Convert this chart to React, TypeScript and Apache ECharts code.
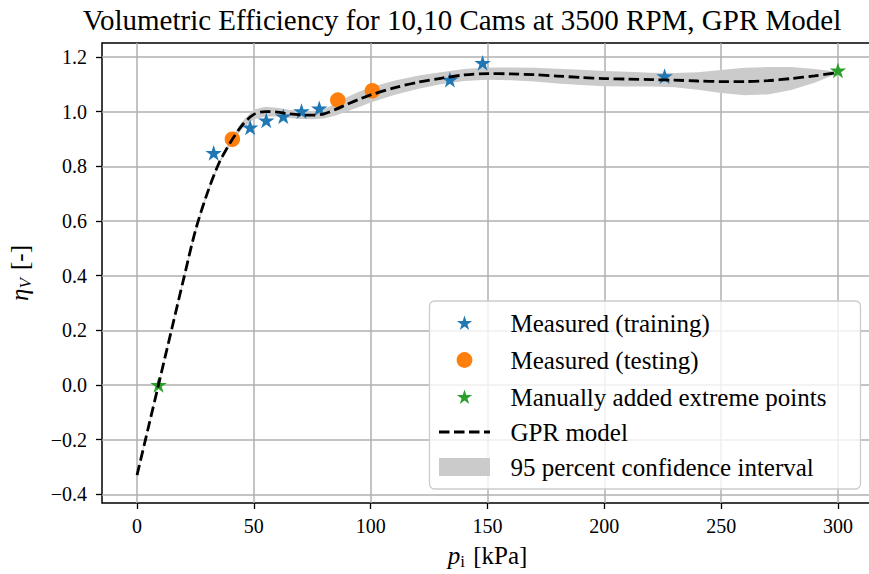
import React, { useEffect, useRef } from "react";
import * as echarts from "echarts";

// ---- data ----
const trainX = [32.8, 48.4, 55.3, 62.6, 70.4, 78.0, 133.9, 147.9, 225.8];
const trainY = [0.849, 0.942, 0.968, 0.983, 1.002, 1.012, 1.117, 1.178, 1.130];
const testX = [40.8, 85.9, 100.7];
const testY = [0.899, 1.042, 1.076];
const extremeX = [9.2, 300];
const extremeY = [0.0, 1.151];

const gprX = [0, 5, 10, 15, 20, 25, 30, 35, 40, 45, 50, 55, 60, 65, 70, 75, 80, 85, 90, 95, 100, 110, 120, 130, 140, 150, 160, 170, 180, 190, 200, 210, 220, 230, 240, 250, 260, 270, 280, 290, 300];
const gprY = [-0.33, -0.15, 0.03, 0.21, 0.39, 0.565, 0.70, 0.81, 0.888, 0.95, 0.99, 1.0, 0.998, 0.992, 0.988, 0.987, 0.992, 1.008, 1.027, 1.045, 1.061, 1.087, 1.107, 1.122, 1.134, 1.139, 1.138, 1.135, 1.13, 1.125, 1.121, 1.119, 1.117, 1.115, 1.112, 1.110, 1.110, 1.113, 1.121, 1.131, 1.143];
const ciLower = [-0.336, -0.155, 0.026, 0.204, 0.382, 0.557, 0.693, 0.804, 0.879, 0.936, 0.972, 0.982, 0.982, 0.977, 0.973, 0.972, 0.975, 0.986, 1.001, 1.017, 1.033, 1.061, 1.083, 1.100, 1.112, 1.117, 1.115, 1.110, 1.103, 1.097, 1.093, 1.092, 1.092, 1.089, 1.080, 1.068, 1.060, 1.063, 1.079, 1.106, 1.140];
const ciUpper = [-0.324, -0.145, 0.034, 0.216, 0.398, 0.573, 0.707, 0.816, 0.897, 0.964, 1.008, 1.018, 1.014, 1.007, 1.003, 1.002, 1.009, 1.030, 1.053, 1.073, 1.089, 1.113, 1.131, 1.144, 1.156, 1.161, 1.161, 1.160, 1.157, 1.153, 1.149, 1.146, 1.142, 1.141, 1.144, 1.152, 1.160, 1.163, 1.163, 1.156, 1.146];

const xTicks = [0, 50, 100, 150, 200, 250, 300];
const yTicks = [-0.4, -0.2, 0.0, 0.2, 0.4, 0.6, 0.8, 1.0, 1.2];

const legendLabels = [
  "Measured (training)",
  "Measured (testing)",
  "Manually added extreme points",
  "GPR model",
  "95 percent confidence interval",
];

const TITLE = "Volumetric Efficiency for 10,10 Cams at 3500 RPM, GPR Model";

const BLUE = "#1f77b4";
const ORANGE = "#ff7f0e";
const GREEN = "#2ca02c";
const BAND = "#cbcbcb";
const FONT = "Liberation Serif";

function starPts(cx: number, cy: number, r: number): number[][] {
  const pts: number[][] = [];
  for (let i = 0; i < 10; i++) {
    const a = -Math.PI / 2 + (i * Math.PI) / 5;
    const rr = i % 2 === 0 ? r : r * 0.382;
    pts.push([cx + rr * Math.cos(a), cy + rr * Math.sin(a)]);
  }
  return pts;
}
const starPath =
  "path://" +
  starPts(0, 0, 10)
    .map((p, i) => (i === 0 ? "M" : "L") + p[0].toFixed(3) + " " + p[1].toFixed(3))
    .join(" ") +
  " Z";

function fmtTick(v: number): string {
  const s = v.toFixed(1);
  return v < 0 ? "\u2212" + s.slice(1) : s;
}

export default function App() {
  const ref = useRef<HTMLDivElement>(null);
  useEffect(() => {
    if (!ref.current) return;
    const chart = echarts.init(ref.current, null, { renderer: "svg" });

    const lgX = 429.5, lgY = 301, lgW = 431, lgH = 188;
    const rows = [323, 360, 397, 432, 467];
    const iconCx = 464.5;
    const textX = 510.5;

    const legendGraphics: any[] = [
      {
        type: "rect",
        shape: { x: lgX, y: lgY, width: lgW, height: lgH, r: 5 },
        style: { fill: "rgba(255,255,255,0.8)", stroke: "#cccccc", lineWidth: 1.3 },
        z: 100,
      },
      { type: "polygon", shape: { points: starPts(iconCx, rows[0] + 0.5, 8) }, style: { fill: BLUE }, z: 101 },
      { type: "circle", shape: { cx: iconCx, cy: rows[1], r: 7.9 }, style: { fill: ORANGE }, z: 101 },
      { type: "polygon", shape: { points: starPts(iconCx, rows[2] + 0.5, 8) }, style: { fill: GREEN }, z: 101 },
      {
        type: "line",
        shape: { x1: 439, y1: rows[3], x2: 490, y2: rows[3] },
        style: { stroke: "#000", lineWidth: 2.8, lineDash: [10.5, 4.5] },
        z: 101,
      },
      { type: "rect", shape: { x: 439, y: rows[4] - 9, width: 51, height: 18 }, style: { fill: BAND }, z: 101 },
      ...legendLabels.map((t, i) => ({
        type: "text",
        x: textX,
        y: rows[i],
        style: { text: t, fill: "#000", font: `25px "${FONT}"`, textAlign: "left", textVerticalAlign: "middle" },
        z: 102,
      })),
      {
        type: "text",
        x: 462,
        y: 20,
        style: { text: TITLE, fill: "#000", font: `29px "${FONT}"`, textAlign: "center", textVerticalAlign: "middle" },
        z: 102,
      },
    ];

    const option: any = {
      animation: false,
      backgroundColor: "#fff",
      textStyle: { fontFamily: FONT },
      grid: {
        left: 102,
        top: 43,
        width: 771,
        height: 460,
        show: true,
        borderColor: "#000",
        borderWidth: 1.5,
        backgroundColor: "transparent",
        containLabel: false,
        outerBoundsMode: "none",
      },
      xAxis: {
        type: "value",
        min: -15,
        max: 315,
        axisLine: { show: false, onZero: false },
        axisTick: { show: true, length: 6, lineStyle: { color: "#000", width: 1.3 }, customValues: xTicks },
        axisLabel: {
          customValues: xTicks,
          color: "#000",
          fontSize: 20,
          fontFamily: FONT,
          margin: 13,
        },
        splitLine: { show: true, lineStyle: { color: "#b0b0b0", width: 1.5 } },
        name: "{i|p}{s|i} [kPa]",
        nameLocation: "middle",
        nameGap: 38,
        nameTextStyle: {
          color: "#000",
          fontSize: 25,
          fontFamily: FONT,
          rich: {
            i: { fontStyle: "italic", fontSize: 25, fontFamily: FONT, color: "#000" },
            s: { fontSize: 17, fontFamily: FONT, color: "#000", padding: [12, 2, 0, 0] },
          },
        },
      },
      yAxis: {
        type: "value",
        min: -0.432,
        max: 1.251,
        axisLine: { show: false, onZero: false },
        axisTick: { show: true, length: 6, lineStyle: { color: "#000", width: 1.3 }, customValues: yTicks },
        axisLabel: {
          customValues: yTicks,
          color: "#000",
          fontSize: 20,
          fontFamily: FONT,
          margin: 15,
          formatter: (v: number) => fmtTick(v),
        },
        splitLine: { show: true, lineStyle: { color: "#b0b0b0", width: 1.5 } },
        name: "{i|\u03b7}{s|V} [-]",
        nameLocation: "middle",
        nameRotate: 90,
        nameGap: 68,
        nameTextStyle: {
          color: "#000",
          fontSize: 25,
          fontFamily: FONT,
          rich: {
            i: { fontStyle: "italic", fontSize: 25, fontFamily: FONT, color: "#000" },
            s: { fontStyle: "italic", fontSize: 17, fontFamily: FONT, color: "#000", padding: [12, 2, 0, 0] },
          },
        },
      },
      graphic: legendGraphics,
      series: [
        {
          type: "custom",
          name: legendLabels[4],
          z: 1,
          clip: true,
          data: gprX.map((x, i) => [x, ciLower[i], ciUpper[i]]),
          encode: { x: 0, y: [1, 2] },
          renderItem: (params: any, api: any) => {
            if (params.dataIndex !== 0) return null;
            const pts: number[][] = [];
            for (let i = 0; i < gprX.length; i++) pts.push(api.coord([gprX[i], ciUpper[i]]));
            for (let i = gprX.length - 1; i >= 0; i--) pts.push(api.coord([gprX[i], ciLower[i]]));
            return { type: "polygon", shape: { points: pts }, style: { fill: BAND } };
          },
        },
        {
          type: "scatter",
          name: legendLabels[0],
          z: 3,
          symbol: starPath,
          symbolSize: [16.5, 15.7],
          itemStyle: { color: BLUE, opacity: 1 },
          data: trainX.map((x, i) => [x, trainY[i]]),
        },
        {
          type: "scatter",
          name: legendLabels[1],
          z: 3,
          symbol: "circle",
          symbolSize: 15.5,
          itemStyle: { color: ORANGE, opacity: 1 },
          data: testX.map((x, i) => [x, testY[i]]),
        },
        {
          type: "scatter",
          name: legendLabels[2],
          z: 3,
          symbol: starPath,
          symbolSize: [16.5, 15.7],
          itemStyle: { color: GREEN, opacity: 1 },
          data: extremeX.map((x, i) => [x, extremeY[i]]),
        },
        {
          type: "line",
          name: legendLabels[3],
          z: 4,
          smooth: 0.3,
          showSymbol: false,
          symbol: "none",
          lineStyle: { color: "#000", width: 2.8, type: [10.5, 4.5] },
          data: gprX.map((x, i) => [x, gprY[i]]),
        },
      ],
    };
    chart.setOption(option);
    return () => chart.dispose();
  }, []);
  return (
    <div
      ref={ref}
      style={{ position: "absolute", left: 0, top: 0, width: 869, height: 574, overflow: "hidden" }}
    />
  );
}
